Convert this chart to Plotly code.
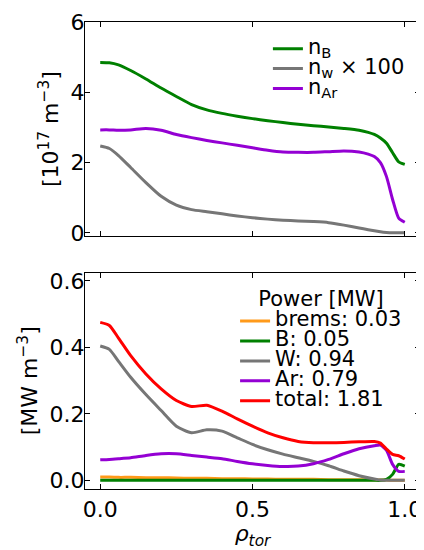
import plotly.graph_objects as go

# ---------------- data ----------------
rho_top = [0, 0.03, 0.06, 0.1, 0.15, 0.2, 0.25, 0.3, 0.35, 0.4, 0.45, 0.5, 0.55, 0.6,
           0.65, 0.7, 0.75, 0.8, 0.85, 0.88, 0.9, 0.92, 0.94, 0.96, 0.98, 1.0]
n_B = [4.85, 4.84, 4.78, 4.62, 4.38, 4.12, 3.88, 3.65, 3.50, 3.40, 3.32, 3.25, 3.19, 3.14,
       3.09, 3.05, 3.01, 2.97, 2.92, 2.86, 2.80, 2.70, 2.55, 2.28, 2.02, 1.95]
n_W100 = [2.47, 2.40, 2.20, 1.86, 1.43, 1.04, 0.79, 0.66, 0.60, 0.54, 0.48, 0.43, 0.39, 0.36,
          0.34, 0.32, 0.29, 0.22, 0.14, 0.09, 0.06, 0.03, 0.01, 0.0, 0.0, 0.0]
n_Ar = [2.93, 2.93, 2.92, 2.93, 2.97, 2.92, 2.80, 2.71, 2.63, 2.56, 2.49, 2.42, 2.35, 2.30,
        2.29, 2.29, 2.31, 2.33, 2.30, 2.24, 2.17, 2.00, 1.60, 0.95, 0.42, 0.30]

rho_bot = [0, 0.03, 0.06, 0.1, 0.15, 0.2, 0.25, 0.3, 0.35, 0.4, 0.45, 0.5, 0.55, 0.6,
           0.65, 0.7, 0.75, 0.8, 0.85, 0.9, 0.92, 0.94, 0.96, 0.98, 1.0]
p_brems = [0.010, 0.010, 0.009, 0.009, 0.008, 0.008, 0.007, 0.006, 0.006, 0.005, 0.005, 0.004, 0.004,
           0.003, 0.003, 0.003, 0.002, 0.002, 0.002, 0.001, 0.001, 0.001, 0.0, 0.0, 0.0]
p_B = [0.0, 0.0, 0.0, 0.0, 0.0, 0.0, 0.0, 0.0, 0.0, 0.0, 0.0, 0.0, 0.0, 0.0,
       0.0, 0.0, 0.0, 0.0, 0.0, 0.0, 0.0, 0.003, 0.018, 0.048, 0.043]
p_W = [0.404, 0.394, 0.358, 0.31, 0.258, 0.21, 0.163, 0.143, 0.152, 0.148, 0.128, 0.108, 0.092,
       0.079, 0.068, 0.057, 0.044, 0.028, 0.014, 0.004, 0.001, 0.0, 0.0, 0.0, 0.0]
p_Ar = [0.062, 0.063, 0.065, 0.068, 0.075, 0.080, 0.080, 0.075, 0.070, 0.065, 0.057, 0.050, 0.045,
        0.042, 0.043, 0.050, 0.063, 0.080, 0.095, 0.104, 0.106, 0.090, 0.048, 0.027, 0.027]
p_total = [0.475, 0.466, 0.428, 0.375, 0.32, 0.275, 0.24, 0.222, 0.226, 0.208, 0.185, 0.163, 0.143,
           0.128, 0.117, 0.113, 0.113, 0.114, 0.116, 0.117, 0.112, 0.094, 0.078, 0.074, 0.064]

top_labels = ["n<sub>B</sub>", "n<sub>w</sub> × 100", "n<sub>Ar</sub>"]
bot_labels = ["brems: 0.03", "B: 0.05", "W: 0.94", "Ar: 0.79", "total: 1.81"]

GREEN = "#008000"
GRAY = "#767676"
PURPLE = "#9400D3"
RED = "#FF0000"
ORANGE = "#FF9A1A"
FONT = "DejaVu Sans"


def lbl(s):
    return '<span style="font-size:21px">' + s + '</span>'


fig = go.Figure()

for y, c, name in zip([n_B, n_W100, n_Ar], [GREEN, GRAY, PURPLE], top_labels):
    fig.add_trace(go.Scatter(x=rho_top, y=y, mode="lines", name=lbl(name),
                             line=dict(color=c, width=3, shape="spline", smoothing=0.6),
                             xaxis="x", yaxis="y", legend="legend"))

for y, c, name in zip([p_brems, p_B, p_W, p_Ar, p_total],
                      [ORANGE, GREEN, GRAY, PURPLE, RED], bot_labels):
    fig.add_trace(go.Scatter(x=rho_bot, y=y, mode="lines", name=lbl(name),
                             line=dict(color=c, width=3, shape="spline", smoothing=0.6),
                             xaxis="x2", yaxis="y2", legend="legend2"))

axis_common = dict(showline=True, linecolor="black", linewidth=1.3, mirror="allticks",
                   ticks="inside", ticklen=5, tickwidth=1.2, tickcolor="black",
                   showgrid=False, zeroline=False, ticklabeloverflow="allow",
                   tickfont=dict(family=FONT, size=22, color="black"))

fig.update_layout(
    width=416, height=542,
    margin=dict(l=77, r=2, t=7, b=61),
    paper_bgcolor="white", plot_bgcolor="white",
    font=dict(family=FONT, color="black"),
    xaxis=dict(domain=[0, 1], range=[-0.05, 1.05], anchor="y", matches="x2",
               tickvals=[0, 0.5, 1.0], showticklabels=False, **axis_common),
    yaxis=dict(domain=[0.541, 1.0], range=[-0.1, 6.0], anchor="x",
               tickvals=[0, 2, 4, 6], ticktext=["0", "2", "4", "6"],
               ticklabelstandoff=-5,
               title=dict(text="[10<sup>17</sup> m<sup>−3</sup>]",
                          font=dict(family=FONT, size=22), standoff=5),
               **axis_common),
    xaxis2=dict(domain=[0, 1], range=[-0.05, 1.05], anchor="y2",
                tickvals=[0, 0.5, 1.0], ticktext=["0.0", "0.5", "1.0"],
                ticklabelstandoff=0,
                title=dict(text="<i>ρ<sub>tor</sub></i>", font=dict(family=FONT, size=22),
                           standoff=0),
                **axis_common),
    yaxis2=dict(domain=[0, 0.4635], range=[-0.026, 0.625], anchor="x2",
                tickvals=[0, 0.2, 0.4, 0.6], ticktext=["0.0", "0.2", "0.4", "0.6"],
                ticklabelstandoff=-5,
                title=dict(text="[MW m<sup>−3</sup>]", font=dict(family=FONT, size=22),
                           standoff=5),
                **axis_common),
    legend=dict(x=0.546, y=0.975, xanchor="left", yanchor="top",
                bgcolor="rgba(0,0,0,0)", borderwidth=0,
                font=dict(family=FONT, size=13, color="black"),
                itemwidth=30, tracegroupgap=0),
    legend2=dict(x=0.448, y=0.450, xanchor="left", yanchor="top",
                 bgcolor="rgba(0,0,0,0)", borderwidth=0,
                 font=dict(family=FONT, size=13, color="black"),
                 title=dict(text="Power [MW]", side="top center",
                            font=dict(family=FONT, size=21, color="black")),
                 itemwidth=30, tracegroupgap=0),
    showlegend=True,
)

fig.write_html("out.html")
